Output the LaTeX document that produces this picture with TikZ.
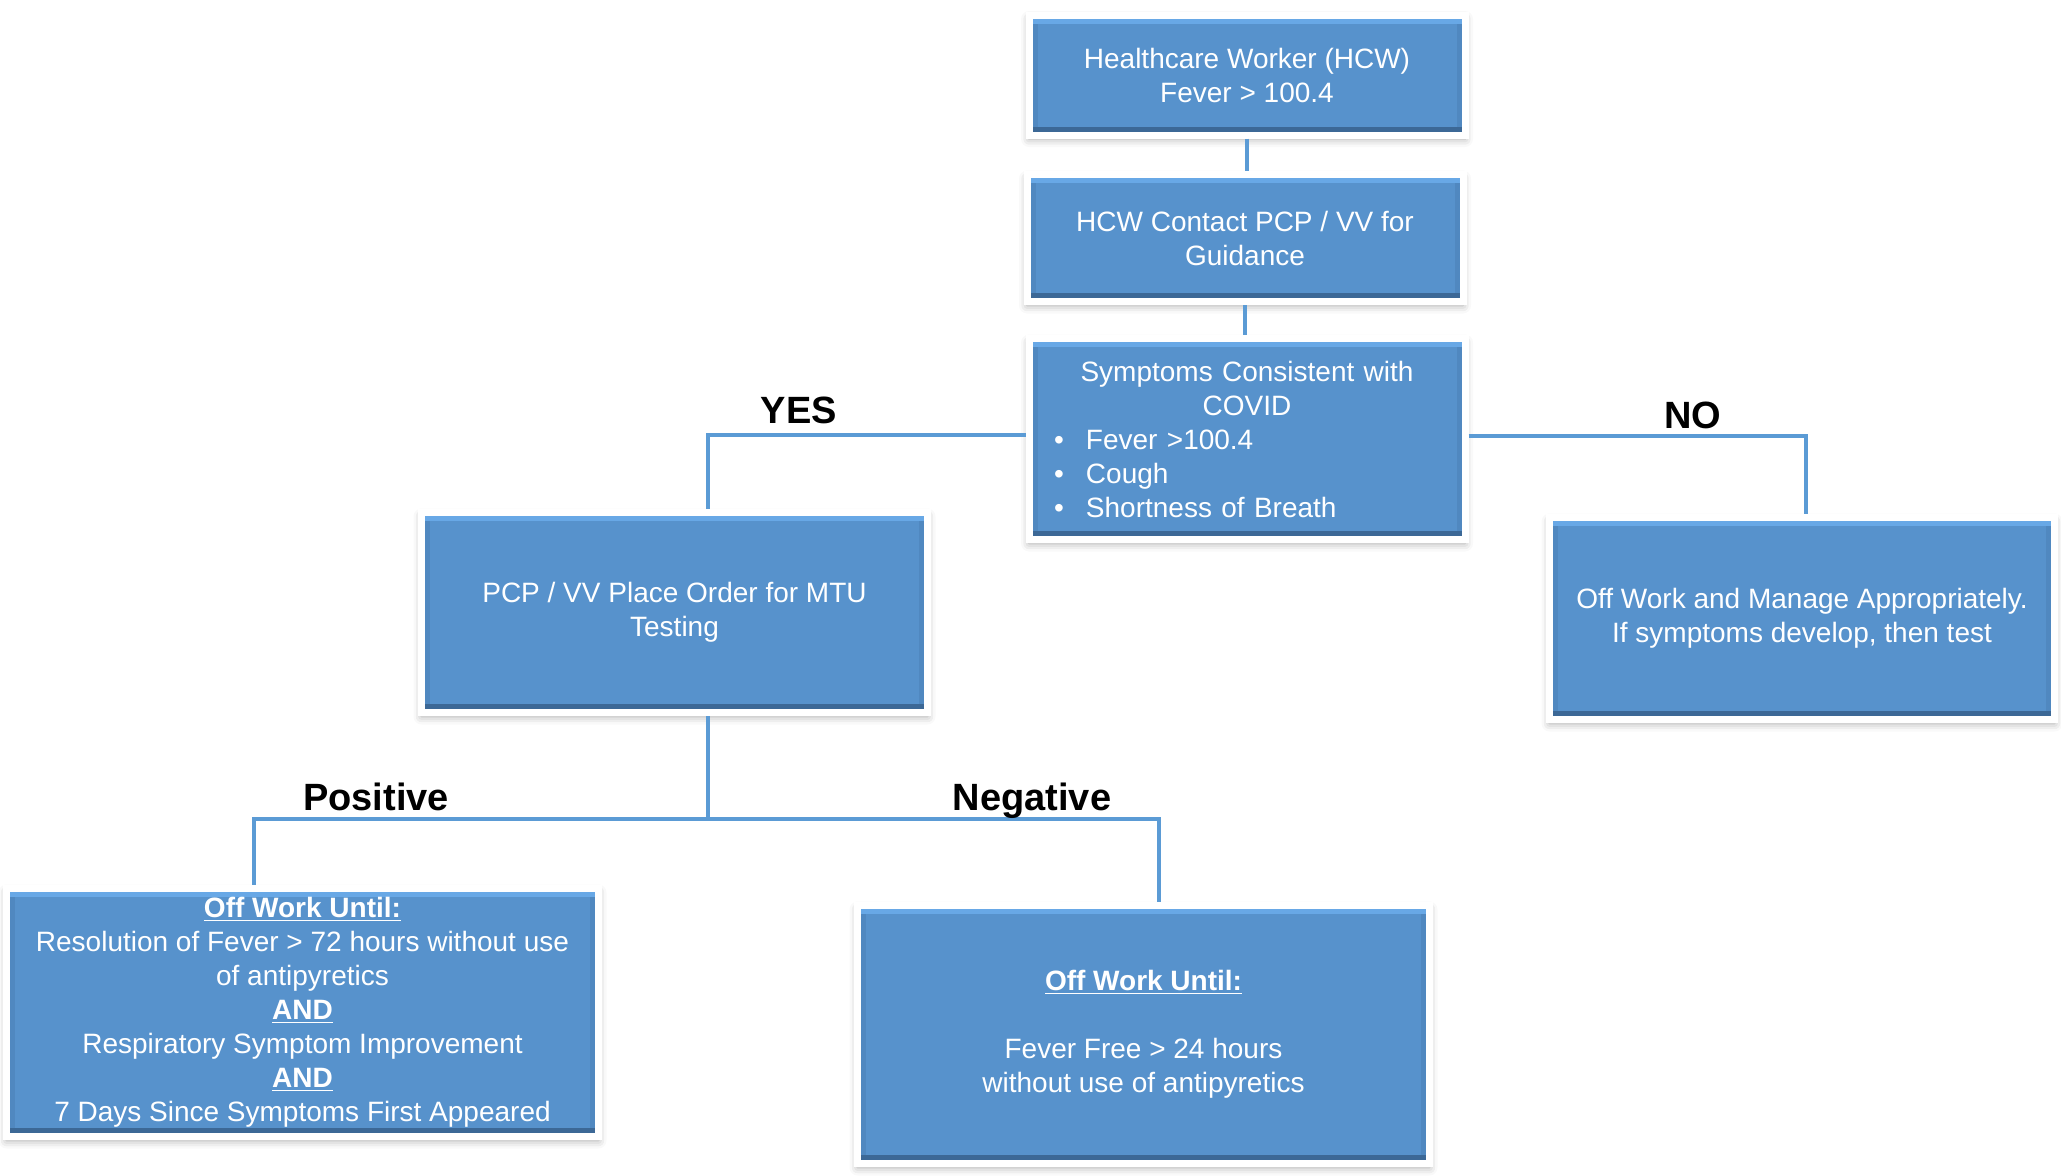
\documentclass[tikz,border=0pt]{standalone}
\usepackage{fontspec}
\setmainfont{Liberation Sans}
\usetikzlibrary{shadows.blur}
\setlength{\parindent}{0pt}

\definecolor{boxblue}{RGB}{87,146,204}
\definecolor{boxlight}{RGB}{104,168,230}
\definecolor{boxside}{RGB}{80,136,192}
\definecolor{boxdark}{RGB}{60,104,150}
\definecolor{linkblue}{RGB}{91,155,213}

\newcommand{\symitem}[1]{\makebox[19.5pt][l]{\hspace{3.5pt}\textbullet}#1}

\begin{document}
\begin{tikzpicture}[y=0.50pt, x=0.50pt, yscale=-1.000000, xscale=1.000000,
  flowbox/.style={rectangle, fill=boxblue, draw=white, line width=3.5pt, text=white,
    font=\fontsize{14}{17}\selectfont, align=center, inner sep=4pt,
    blur shadow={shadow xshift=0pt, shadow yshift=-2pt, shadow blur radius=4pt, shadow opacity=35},
    path picture={
      \path[draw=boxside,line width=8.5pt] (path picture bounding box.north west) -- (path picture bounding box.south west)
        (path picture bounding box.north east) -- (path picture bounding box.south east);
      \path[draw=boxlight,line width=8.5pt] (path picture bounding box.north west) -- (path picture bounding box.north east);
      \path[draw=boxdark,line width=8.5pt] (path picture bounding box.south west) -- (path picture bounding box.south east);
    }},
  link/.style={draw=linkblue, line width=2pt},
  lbl/.style={font=\fontsize{19}{22}\selectfont\bfseries, text=black}]

  \useasboundingbox (0,0) rectangle (2061,1175);

  % top column
  \path (1247,75) node[flowbox, minimum width=218pt, minimum height=60pt] (hcw) {Healthcare Worker (HCW)\\Fever > 100.4};
  \path (1245,238) node[flowbox, minimum width=218pt, minimum height=63.5pt] (contact) {HCW Contact PCP / VV for\\Guidance};
  \path (1247,439) node[flowbox, text width=200pt, minimum width=218pt, minimum height=100.5pt] (symptoms)
    {Symptoms Consistent with\\COVID\par\raggedright\symitem{Fever >100.4}\par\symitem{Cough}\par\symitem{Shortness of Breath}\par};

  % yes / no
  \path (674.5,612.5) node[flowbox, minimum width=253pt, minimum height=100pt] (order) {PCP / VV Place Order for MTU\\Testing};
  \path (1802,618.5) node[flowbox, minimum width=252.5pt, minimum height=101pt] (offmanage) {Off Work and Manage Appropriately.\\If symptoms develop, then test};

  % test results
  \path (302.5,1012.5) node[flowbox, minimum width=296pt, minimum height=124pt] (offpos)
    {\underline{\textbf{Off Work Until:}}\\Resolution of Fever > 72 hours without use\\of antipyretics\\\underline{\textbf{AND}}\\Respiratory Symptom Improvement\\\underline{\textbf{AND}}\\7 Days Since Symptoms First Appeared};
  \path (1143.5,1034.5) node[flowbox, minimum width=286pt, minimum height=129pt] (offneg)
    {\underline{\textbf{Off Work Until:}}\\[17pt]Fever Free > 24 hours\\without use of antipyretics};

  % connectors
  \path[link] (hcw.south) -- (hcw.south |- contact.north);
  \path[link] (contact.south) -- (contact.south |- symptoms.north);

  \coordinate (yesturn) at (708,435);
  \coordinate (noturn) at (1806,436);
  \path[link] (symptoms.west |- yesturn) -- (yesturn) -- (yesturn |- order.north);
  \path[link] (symptoms.east |- noturn) -- (noturn) -- (noturn |- offmanage.north);

  \coordinate (split) at (708,819);
  \coordinate (posturn) at (254,819);
  \coordinate (negturn) at (1159,819);
  \path[link] (order.south -| split) -- (split);
  \path[link] (split) -- (posturn) -- (posturn |- offpos.north);
  \path[link] (split) -- (negturn) -- (negturn |- offneg.north);

  % branch labels
  \path (799,410) node[lbl] (yes) {YES};
  \path (1693,415) node[lbl] (no) {NO};
  \path (376,797) node[lbl] (positive) {Positive};
  \path (1032,801) node[lbl] (negative) {Negative};

\end{tikzpicture}
\end{document}
